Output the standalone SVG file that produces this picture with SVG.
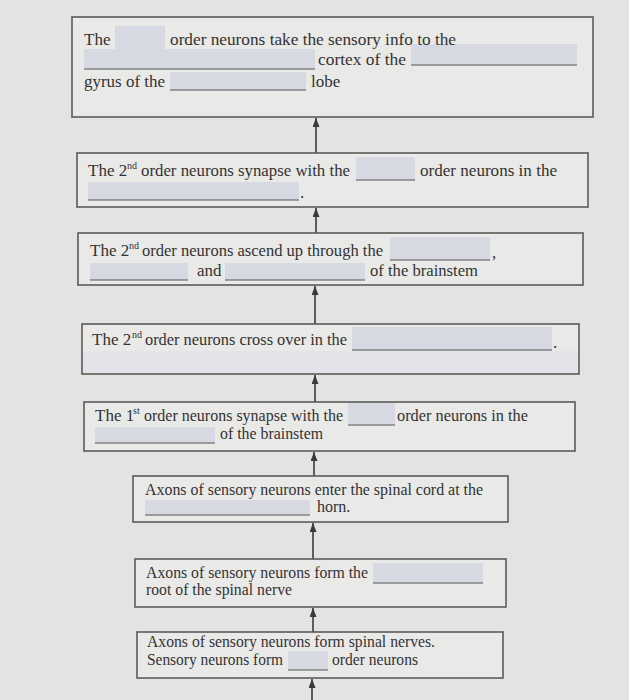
<svg xmlns="http://www.w3.org/2000/svg" width="629" height="700" viewBox="0 0 629 700">
<defs>
<marker id="ah" viewBox="0 0 9 7" refX="9" refY="3.5" markerWidth="9" markerHeight="7" markerUnits="userSpaceOnUse" orient="auto">
<path d="M0,0 L9,3.5 L0,7 z" fill="#3a3a3a"/>
</marker>
<style>
.box{fill:#e9e9e8;stroke:#5a5a5a;stroke-width:1.6}
.t{font-family:"Liberation Serif","Times New Roman",serif;font-size:17px;fill:#333}
.s{font-family:"Liberation Serif","Times New Roman",serif;font-size:16px;fill:#333}
.sup{font-family:"Liberation Serif","Times New Roman",serif;font-size:10px;fill:#333}
.hl{fill:#d6d9e2}
.ul{stroke:#555;stroke-width:1}
.band{fill:#e2e4e9}
.c{stroke:#3a3a3a;stroke-width:1.6;fill:none;marker-end:url(#ah)}
</style>
</defs>
<rect x="0" y="0" width="629" height="700" fill="#e3e3e1"/>

<g id="connectors">
<line class="c" x1="316" y1="153" x2="316" y2="118"/>
<line class="c" x1="316" y1="233" x2="316" y2="208"/>
<line class="c" x1="315" y1="324" x2="315" y2="286"/>
<line class="c" x1="315" y1="402" x2="315" y2="375"/>
<line class="c" x1="314" y1="476" x2="314" y2="452"/>
<line class="c" x1="313" y1="559" x2="313" y2="523"/>
<line class="c" x1="313" y1="632" x2="313" y2="608"/>
<line class="c" x1="312" y1="700" x2="312" y2="679"/>
</g>

<g id="box1">
<rect class="box" x="72" y="17" width="521" height="100"/>
<rect class="hl" x="115" y="26" width="50" height="24"/>
<line class="ul" x1="115" y1="50" x2="165" y2="50"/>
<rect class="hl" x="84" y="49" width="231" height="20"/>
<line class="ul" x1="84" y1="69" x2="315" y2="69"/>
<rect class="hl" x="411" y="44" width="166" height="21"/>
<line class="ul" x1="411" y1="65" x2="577" y2="65"/>
<rect class="hl" x="170" y="72" width="136" height="18"/>
<line class="ul" x1="170" y1="90" x2="306" y2="90"/>
<text class="t" x="84" y="45">The</text>
<text class="t" x="170" y="45" textLength="286" lengthAdjust="spacingAndGlyphs">order neurons take the sensory info to the</text>
<text class="t" x="318" y="65" textLength="88" lengthAdjust="spacingAndGlyphs">cortex of the</text>
<text class="t" x="84" y="87" textLength="81" lengthAdjust="spacingAndGlyphs">gyrus of the</text>
<text class="t" x="311" y="87">lobe</text>
</g>

<g id="box2">
<rect class="box" x="77" y="153" width="511" height="54"/>
<rect class="hl" x="356" y="157" width="59" height="23"/>
<line class="ul" x1="356" y1="180" x2="415" y2="180"/>
<rect class="hl" x="88" y="182" width="211" height="18"/>
<line class="ul" x1="88" y1="200" x2="299" y2="200"/>
<text class="t" x="88" y="176">The 2</text>
<text class="sup" x="127" y="169">nd</text>
<text class="t" x="141" y="176" textLength="209" lengthAdjust="spacingAndGlyphs">order neurons synapse with the</text>
<text class="t" x="420" y="176" textLength="137" lengthAdjust="spacingAndGlyphs">order neurons in the</text>
<text class="t" x="300" y="198">.</text>
</g>

<g id="box3">
<rect class="box" x="78" y="233" width="505" height="52"/>
<rect class="hl" x="390" y="237" width="100" height="23"/>
<line class="ul" x1="390" y1="260" x2="490" y2="260"/>
<rect class="hl" x="90" y="263" width="98" height="17"/>
<line class="ul" x1="90" y1="280" x2="188" y2="280"/>
<rect class="hl" x="225" y="263" width="140" height="17"/>
<line class="ul" x1="225" y1="280" x2="365" y2="280"/>
<text class="t" x="90" y="256">The 2</text>
<text class="sup" x="129" y="249">nd</text>
<text class="t" x="142" y="256" textLength="241" lengthAdjust="spacingAndGlyphs">order neurons ascend up through the</text>
<text class="t" x="492" y="258">,</text>
<text class="t" x="197" y="276">and</text>
<text class="t" x="370" y="276" textLength="108" lengthAdjust="spacingAndGlyphs">of the brainstem</text>
</g>

<g id="box4">
<rect class="box" x="82" y="324" width="497" height="50"/>
<rect class="band" x="83" y="351" width="495" height="22"/>
<rect class="hl" x="352" y="327" width="200" height="23"/>
<line class="ul" x1="352" y1="350" x2="552" y2="350"/>
<text class="t" x="92" y="345">The 2</text>
<text class="sup" x="132" y="338">nd</text>
<text class="t" x="145" y="345" textLength="202" lengthAdjust="spacingAndGlyphs">order neurons cross over in the</text>
<text class="t" x="553" y="348">.</text>
</g>

<g id="box5">
<rect class="box" x="84" y="402" width="491" height="49"/>
<rect class="hl" x="348" y="403" width="47" height="22"/>
<line class="ul" x1="348" y1="425" x2="395" y2="425"/>
<rect class="hl" x="95" y="427" width="120" height="16"/>
<line class="ul" x1="95" y1="443" x2="215" y2="443"/>
<text class="t" x="95" y="421">The 1</text>
<text class="sup" x="133" y="414" font-size="9">st</text>
<text class="t" x="144" y="421" textLength="199" lengthAdjust="spacingAndGlyphs">order neurons synapse with the</text>
<text class="t" x="397" y="421" textLength="131" lengthAdjust="spacingAndGlyphs">order neurons in the</text>
<text class="t" x="220" y="439" textLength="103" lengthAdjust="spacingAndGlyphs">of the brainstem</text>
</g>

<g id="box6">
<rect class="box" x="133" y="476" width="375" height="46"/>
<rect class="hl" x="145" y="500" width="165" height="15"/>
<line class="ul" x1="145" y1="515" x2="310" y2="515"/>
<text class="s" x="145" y="495" textLength="338" lengthAdjust="spacingAndGlyphs">Axons of sensory neurons enter the spinal cord at the</text>
<text class="s" x="317" y="512">horn.</text>
</g>

<g id="box7">
<rect class="box" x="135" y="559" width="371" height="48"/>
<rect class="hl" x="373" y="563" width="110" height="20"/>
<line class="ul" x1="373" y1="583" x2="483" y2="583"/>
<text class="s" x="146" y="578" textLength="222" lengthAdjust="spacingAndGlyphs">Axons of sensory neurons form the</text>
<text class="s" x="146" y="595" textLength="146" lengthAdjust="spacingAndGlyphs">root of the spinal nerve</text>
</g>

<g id="box8">
<rect class="box" x="137" y="632" width="366" height="46"/>
<rect class="hl" x="288" y="651" width="40" height="19"/>
<line class="ul" x1="288" y1="670" x2="328" y2="670"/>
<text class="s" x="147" y="647" textLength="288" lengthAdjust="spacingAndGlyphs">Axons of sensory neurons form spinal nerves.</text>
<text class="s" x="147" y="665" textLength="136" lengthAdjust="spacingAndGlyphs">Sensory neurons form</text>
<text class="s" x="332" y="665" textLength="86" lengthAdjust="spacingAndGlyphs">order neurons</text>
</g>
</svg>
